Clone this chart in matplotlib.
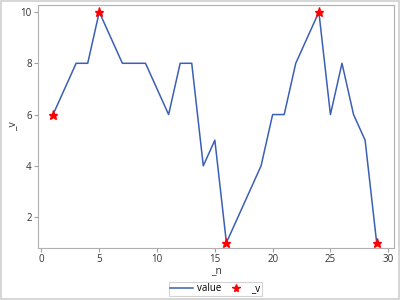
import matplotlib

matplotlib.use("Agg")
import matplotlib.pyplot as plt
from matplotlib.patches import Rectangle

# series
n = list(range(1, 30))
value = [6, 7, 8, 8, 10, 9, 8, 8, 8, 7, 6, 8, 8, 4, 5, 1, 2, 3, 4, 6,
         6, 8, 9, 10, 6, 8, 6, 5, 1]
# extreme points
v_n = [1, 5, 16, 24, 29]
v_val = [6, 10, 1, 10, 1]

xticks = [0, 5, 10, 15, 20, 25, 30]
yticks = [2, 4, 6, 8, 10]

plt.rcParams["font.family"] = ["Open Sans", "DejaVu Sans"]

fig = plt.figure(figsize=(4, 3), dpi=100)
ax = fig.add_axes([0.095, 0.173, 0.89, 0.81])

line, = ax.plot(n, value, color="#3b5fb6", lw=1.1, label="value")
stars, = ax.plot(v_n, v_val, ls="none", marker="*", ms=6.5, color="#ff0000",
                 markeredgecolor="#ff0000", label="_v", clip_on=False, zorder=3)

ax.set_xlim(-0.3, 30.5)
ax.set_ylim(0.79, 10.27)
ax.set_xticks(xticks)
ax.set_yticks(yticks)
for s in ax.spines.values():
    s.set_color("#b0b0b0")
    s.set_linewidth(0.8)
ax.tick_params(colors="#a0a0a0", labelcolor="#333333", labelsize=7,
               length=3, width=0.8, pad=1.5)
ax.set_xlabel("_n", fontsize=7.5, color="#333333", labelpad=0)
ax.set_ylabel("_v", fontsize=7.5, color="#333333", labelpad=2)

leg = fig.legend([line, stars], ["value", "_v"], loc="center",
                 bbox_to_anchor=(0.538, 0.037), ncol=2, fontsize=7, frameon=True,
                 fancybox=False, handlelength=2.3, columnspacing=0.4,
                 handletextpad=0.4, borderpad=0.15, markerscale=0.9)
leg.get_frame().set_edgecolor("#c8c8c8")
leg.get_frame().set_linewidth(0.8)

fig.patches.append(Rectangle((0.002, 0.003), 0.995, 0.994, transform=fig.transFigure,
                             fill=False, edgecolor="#d0d0d0", lw=1.2))

fig.savefig("out.png", dpi=100)
